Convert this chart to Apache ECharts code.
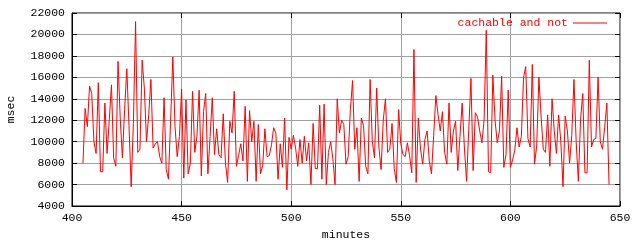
<!DOCTYPE html>
<html>
<head>
<meta charset="utf-8">
<script src="https://cdn.jsdelivr.net/npm/echarts@6/dist/echarts.min.js"></script>
<style>html,body{margin:0;padding:0;background:#fff}#c{width:640px;height:240px}</style>
</head>
<body>
<div id="c"></div>
<script>
// Data: one sample per minute, starting at minute 405
const START_MINUTE = 405;
const seriesName = 'cachable and not';
const msec = [
 8000,13100,11400,15200,14500,10000,8900,15500,7200,7200,
 13600,8900,12000,15300,8500,7700,17500,12200,8500,13000,
 16800,11500,5800,11700,21200,9000,9300,17600,15000,10000,
 12500,15800,9400,9800,10000,8600,8000,14100,7400,6500,
 12000,17900,11400,8600,10500,14900,6600,13900,7000,8000,
 14700,9000,10500,14800,6800,12800,14500,7000,10500,14100,
 8800,11200,8800,8500,12600,8000,6200,11900,10800,14700,
 7700,8700,9800,8200,13300,6300,12900,10000,11900,6300,
 11600,7000,7800,11200,8600,8700,9700,11300,10800,6500,
 9800,7600,12200,5500,10400,9300,10600,9400,7700,10200,
 8000,10500,8200,9900,6000,11700,7500,7500,13400,6500,
 13500,6000,9000,10000,8400,6000,14000,10800,12000,11600,
 7900,8600,13000,15700,9300,11300,6300,12200,11500,7700,
 7000,15800,10000,8500,15000,9500,7400,12000,14000,9000,
 9300,11700,7500,6200,13000,9800,8800,8600,9900,8700,
 7100,18600,6200,12200,9300,7900,10200,11000,8200,7000,
 10600,14300,12500,11000,12800,9000,7900,13600,9000,11000,
 11900,7300,10500,13600,9500,6300,11100,15900,7300,12700,
 12300,11000,9900,12000,20400,7200,7100,16200,12000,9900,
 11000,16100,7600,8800,14800,7600,8300,9200,11300,9500,
 10500,16000,17000,10300,9500,17200,7900,9600,16000,12400,
 9300,9000,12500,7700,14000,11000,8900,12500,10000,5800,
 12400,11000,8000,10600,15800,10000,6300,12000,14500,7100,
 7100,17600,9500,10200,10300,16000,10000,9300,11300,13600,
 6000
];
const xTicks = [400, 450, 500, 550, 600, 650];
const yTicks = [4000, 6000, 8000, 10000, 12000, 14000, 16000, 18000, 20000, 22000];

const minutes = msec.map((v, i) => START_MINUTE + i);
const points = minutes.map((m, i) => [m, msec[i]]);

const FONT = 'Liberation Mono';
const chart = echarts.init(document.getElementById('c'), null, {renderer: 'canvas'});
const gridLine = {show: true, lineStyle: {color: '#a0a0a0', width: 1}};
const tick = {show: true, inside: true, length: 5, lineStyle: {color: '#000'}};
const plain = v => String(v);
chart.setOption({
  animation: false,
  backgroundColor: '#fff',
  textStyle: {fontFamily: FONT},
  grid: {left: 72, right: 20, top: 13, bottom: 34, containLabel: false, outerBoundsMode: 'none',
         show: true, borderColor: '#000', borderWidth: 1, backgroundColor: 'transparent'},
  legend: {
    data: [seriesName], right: 33, top: 17, padding: 0, align: 'right',
    icon: 'rect', itemWidth: 34, itemHeight: 1,
    textStyle: {color: '#ff0000', fontFamily: FONT, fontSize: 11.5}
  },
  xAxis: [{
    type: 'value', min: xTicks[0], max: xTicks[xTicks.length - 1], interval: 50,
    name: 'minutes', nameLocation: 'middle', nameGap: 21,
    nameTextStyle: {color: '#000', fontFamily: FONT, fontSize: 11.5},
    axisLine: {show: true, lineStyle: {color: '#000'}},
    axisTick: tick, splitLine: gridLine,
    axisLabel: {color: '#000', fontFamily: FONT, fontSize: 11.5, margin: 6, formatter: plain}
  }, {
    type: 'value', position: 'top', min: xTicks[0], max: xTicks[xTicks.length - 1], interval: 50,
    axisLine: {show: false}, axisTick: tick, splitLine: {show: false}, axisLabel: {show: false}
  }],
  yAxis: [{
    type: 'value', min: yTicks[0], max: yTicks[yTicks.length - 1], interval: 2000,
    name: 'msec', nameLocation: 'middle', nameRotate: 90, nameGap: 55,
    nameTextStyle: {color: '#000', fontFamily: FONT, fontSize: 11.5},
    axisLine: {show: true, lineStyle: {color: '#000'}},
    axisTick: tick, splitLine: gridLine,
    axisLabel: {color: '#000', fontFamily: FONT, fontSize: 11.5, margin: 7, formatter: plain}
  }, {
    type: 'value', position: 'right', min: yTicks[0], max: yTicks[yTicks.length - 1], interval: 2000,
    axisLine: {show: false}, axisTick: tick, splitLine: {show: false}, axisLabel: {show: false}
  }],
  series: [{
    name: seriesName, type: 'line', data: points,
    showSymbol: false, symbol: 'none',
    lineStyle: {color: '#ff0000', width: 1}, itemStyle: {color: '#ff0000'}
  }]
});
</script>
</body>
</html>
